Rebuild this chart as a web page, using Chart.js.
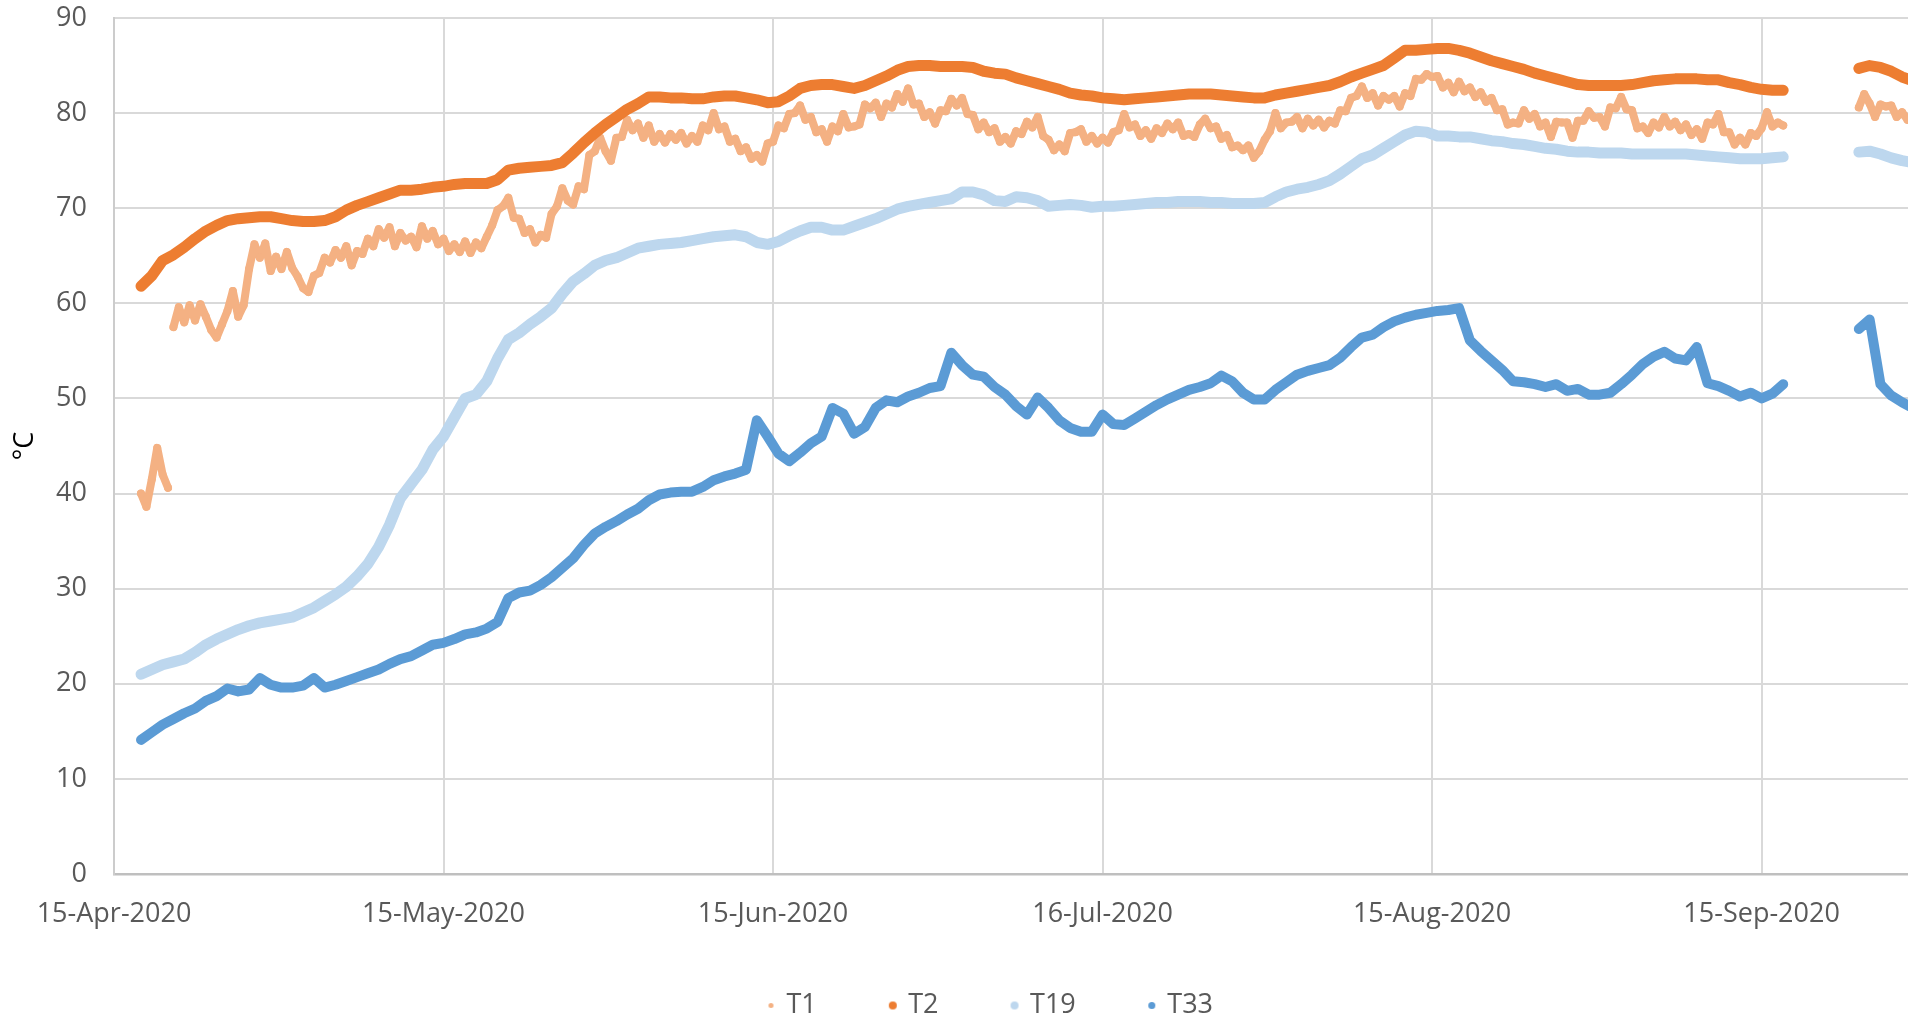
<!DOCTYPE html>
<html>
<head>
<meta charset="utf-8">
<title>T1 T2 T19 T33</title>
<script src="https://cdn.jsdelivr.net/npm/chart.js@4.4.0/dist/chart.umd.min.js"></script>
<style>
    html, body { margin: 0; padding: 0; background: #ffffff; overflow: hidden; }
    #wrap { width: 2002px; height: 1019px; }
</style>
</head>
<body>
<div id="wrap"><canvas id="tempChart"></canvas></div>
<script>
// x values are days after 15-Apr-2020
const tickDays = [0, 30.5, 61, 91.5, 122, 152.5];
const tickLabels = ['15-Apr-2020', '15-May-2020', '15-Jun-2020', '16-Jul-2020', '15-Aug-2020', '15-Sep-2020'];

const seriesNames = ['T1', 'T2', 'T19', 'T33'];
const seriesColors = ['#F4B183', '#ED7D31', '#BDD7EE', '#5B9BD5'];
const firstDay = 2.5;

// T1, one reading every 12 h from day 2.5
const t1 = [
    40.0, 38.6, 41.5, 44.8, 42.0, 40.6, 57.5, 59.6, 58.0, 59.8,
    58.2, 59.9, 58.6, 57.2, 56.4, 57.8, 59.2, 61.3, 58.6, 59.8,
    63.6, 66.2, 64.8, 66.3, 63.4, 64.9, 63.6, 65.4, 63.7, 62.8,
    61.6, 61.2, 62.9, 63.2, 64.8, 64.3, 65.6, 64.8, 66.0, 64.0,
    65.5, 65.2, 66.8, 66.0, 67.8, 66.9, 68.0, 66.0, 67.4, 66.6,
    67.0, 65.9, 68.1, 66.8, 67.6, 66.2, 66.8, 65.5, 66.2, 65.4,
    66.5, 65.3, 66.4, 65.8, 67.0, 68.2, 69.8, 70.2, 71.1, 69.0,
    68.9, 67.4, 67.8, 66.4, 67.2, 66.9, 69.4, 70.2, 72.1, 70.8,
    70.4, 72.3, 72.0, 75.6, 76.0, 77.4, 76.0, 75.0, 77.4, 77.5,
    79.3, 78.2, 78.9, 77.4, 78.7, 77.0, 77.8, 76.9, 77.8, 77.2,
    77.9, 76.8, 77.6, 77.0, 78.7, 78.2, 80.0, 78.3, 78.6, 77.0,
    77.3, 76.0, 76.4, 75.2, 75.6, 74.9, 76.8, 77.0, 78.7, 78.4,
    79.9, 80.0, 80.8, 79.3, 79.6, 78.0, 78.3, 77.0, 78.6, 78.1,
    79.9, 78.5, 78.6, 78.8, 80.9, 80.5, 81.1, 79.6, 81.0, 80.6,
    82.0, 81.2, 82.6, 80.9, 81.0, 79.6, 80.1, 78.9, 80.3, 80.2,
    81.5, 80.8, 81.6, 79.9, 79.8, 78.3, 79.0, 78.0, 78.4, 77.0,
    77.5, 76.8, 78.1, 77.8, 79.1, 78.5, 79.6, 77.6, 77.2, 76.1,
    76.7, 76.0, 77.9, 78.0, 78.3, 77.0, 77.6, 76.8, 77.4, 76.9,
    78.0, 78.2, 79.9, 78.5, 78.8, 77.6, 78.2, 77.3, 78.4, 77.9,
    78.9, 78.3, 79.0, 77.6, 77.8, 77.5, 78.8, 79.4, 78.4, 78.6,
    77.3, 77.7, 76.4, 76.6, 76.1, 76.6, 75.3, 76.0, 77.2, 78.1,
    80.0, 78.4, 79.0, 79.1, 79.6, 78.4, 79.4, 78.7, 79.3, 78.5,
    79.2, 78.9, 80.3, 80.2, 81.6, 81.8, 82.8, 81.6, 82.1, 80.8,
    81.8, 81.4, 81.8, 80.7, 82.1, 81.8, 83.6, 83.5, 84.1, 83.8,
    83.9, 82.7, 83.2, 82.2, 83.3, 82.3, 82.7, 81.7, 82.2, 81.2,
    81.6, 80.3, 80.4, 78.8, 79.0, 78.9, 80.3, 79.4, 79.9, 78.6,
    79.0, 77.5, 79.1, 79.0, 79.0, 77.4, 79.2, 79.2, 80.2, 79.5,
    79.6, 78.6, 80.6, 80.5, 81.7, 80.4, 80.3, 78.4, 78.6, 77.9,
    79.0, 78.5, 79.6, 78.6, 79.1, 78.2, 78.8, 77.7, 78.3, 77.3,
    79.0, 78.8, 79.9, 78.0, 78.0, 76.7, 77.4, 76.7, 77.9, 77.6,
    78.4, 80.1, 78.6, 79.0, 78.7, null, null, null, null, null,
    null, null, null, null, null, null, null, null, 80.6, 82.0,
    81.0, 79.6, 80.9, 80.7, 80.8, 79.6, 80.1, 79.3, 79.8
];

// T2, T19, T33: one reading a day from day 2.5
const t2 = [
    61.8, 62.9, 64.5, 65.1, 65.9, 66.8, 67.6, 68.2, 68.7, 68.9,
    69.0, 69.1, 69.1, 68.9, 68.7, 68.6, 68.6, 68.7, 69.1, 69.8,
    70.3, 70.7, 71.1, 71.5, 71.9, 71.9, 72.0, 72.2, 72.3, 72.5,
    72.6, 72.6, 72.6, 73.0, 74.0, 74.2, 74.3, 74.4, 74.5, 74.8,
    75.8, 76.9, 77.9, 78.8, 79.6, 80.4, 81.0, 81.7, 81.7, 81.6,
    81.6, 81.5, 81.5, 81.7, 81.8, 81.8, 81.6, 81.4, 81.1, 81.2,
    81.8, 82.6, 82.9, 83.0, 83.0, 82.8, 82.6, 82.9, 83.4, 83.9,
    84.5, 84.9, 85.0, 85.0, 84.9, 84.9, 84.9, 84.8, 84.4, 84.2,
    84.1, 83.7, 83.4, 83.1, 82.8, 82.5, 82.1, 81.9, 81.8, 81.6,
    81.5, 81.4, 81.5, 81.6, 81.7, 81.8, 81.9, 82.0, 82.0, 82.0,
    81.9, 81.8, 81.7, 81.6, 81.6, 81.9, 82.1, 82.3, 82.5, 82.7,
    82.9, 83.3, 83.8, 84.2, 84.6, 85.0, 85.8, 86.6, 86.6, 86.7,
    86.8, 86.8, 86.6, 86.3, 85.9, 85.5, 85.2, 84.9, 84.6, 84.2,
    83.9, 83.6, 83.3, 83.0, 82.9, 82.9, 82.9, 82.9, 83.0, 83.2,
    83.4, 83.5, 83.6, 83.6, 83.6, 83.5, 83.5, 83.2, 83.0, 82.7,
    82.5, 82.4, 82.4, null, null, null, null, null, null, 84.7,
    85.0, 84.8, 84.4, 83.8, 83.4
];

const t19 = [
    21.0, 21.5, 22.0, 22.3, 22.6, 23.3, 24.1, 24.7, 25.2, 25.7,
    26.1, 26.4, 26.6, 26.8, 27.0, 27.5, 28.0, 28.7, 29.4, 30.2,
    31.3, 32.6, 34.4, 36.7, 39.5, 41.0, 42.5, 44.6, 46.0, 48.0,
    50.0, 50.4, 51.8, 54.2, 56.2, 56.9, 57.8, 58.6, 59.5, 61.0,
    62.3, 63.1, 64.0, 64.5, 64.8, 65.3, 65.8, 66.0, 66.2, 66.3,
    66.4, 66.6, 66.8, 67.0, 67.1, 67.2, 67.0, 66.4, 66.2, 66.5,
    67.1, 67.6, 68.0, 68.0, 67.7, 67.7, 68.1, 68.5, 68.9, 69.4,
    69.9, 70.2, 70.4, 70.6, 70.8, 71.0, 71.7, 71.7, 71.4, 70.8,
    70.7, 71.2, 71.1, 70.8, 70.2, 70.3, 70.4, 70.3, 70.1, 70.2,
    70.2, 70.3, 70.4, 70.5, 70.6, 70.6, 70.7, 70.7, 70.7, 70.6,
    70.6, 70.5, 70.5, 70.5, 70.6, 71.2, 71.7, 72.0, 72.2, 72.5,
    72.9, 73.6, 74.4, 75.2, 75.6, 76.3, 77.0, 77.7, 78.1, 78.0,
    77.6, 77.6, 77.5, 77.5, 77.3, 77.1, 77.0, 76.8, 76.7, 76.5,
    76.3, 76.2, 76.0, 75.9, 75.9, 75.8, 75.8, 75.8, 75.7, 75.7,
    75.7, 75.7, 75.7, 75.7, 75.6, 75.5, 75.4, 75.3, 75.2, 75.2,
    75.2, 75.3, 75.4, null, null, null, null, null, null, 75.9,
    76.0, 75.7, 75.3, 75.0, 74.8
];

const t33 = [
    14.1, 14.9, 15.7, 16.3, 16.9, 17.4, 18.2, 18.7, 19.5, 19.2,
    19.4, 20.6, 19.9, 19.6, 19.6, 19.8, 20.6, 19.6, 19.9, 20.3,
    20.7, 21.1, 21.5, 22.1, 22.6, 22.9, 23.5, 24.1, 24.3, 24.7,
    25.2, 25.4, 25.8, 26.5, 29.0, 29.6, 29.8, 30.4, 31.2, 32.2,
    33.2, 34.6, 35.8, 36.5, 37.1, 37.8, 38.4, 39.3, 39.9, 40.1,
    40.2, 40.2, 40.7, 41.4, 41.8, 42.1, 42.5, 47.7, 46.0, 44.2,
    43.4, 44.3, 45.3, 46.0, 49.0, 48.4, 46.3, 47.0, 49.0, 49.8,
    49.6, 50.2, 50.6, 51.1, 51.3, 54.8, 53.5, 52.5, 52.3, 51.2,
    50.4, 49.2, 48.3, 50.1, 49.0, 47.7, 46.9, 46.5, 46.5, 48.3,
    47.3, 47.2, 47.9, 48.6, 49.3, 49.9, 50.4, 50.9, 51.2, 51.6,
    52.4, 51.8, 50.6, 49.9, 49.9, 50.9, 51.7, 52.5, 52.9, 53.2,
    53.5, 54.3, 55.4, 56.4, 56.7, 57.5, 58.1, 58.5, 58.8, 59.0,
    59.2, 59.3, 59.5, 56.1, 55.0, 54.0, 53.0, 51.8, 51.7, 51.5,
    51.2, 51.5, 50.8, 51.0, 50.4, 50.4, 50.6, 51.5, 52.5, 53.6,
    54.4, 54.9, 54.2, 54.0, 55.4, 51.6, 51.3, 50.8, 50.2, 50.6,
    50.0, 50.5, 51.5, null, null, null, null, null, null, 57.3,
    58.3, 51.5, 50.3, 49.6, 49.0
];

function toXY(values, step) {
    return values.map((v, i) => ({ x: firstDay + i * step, y: v }));
}

// small round markers for the legend, sized like the plotted dots
function legendDot(color, r) {
    const c = document.createElement('canvas');
    c.width = c.height = Math.ceil(r * 2) + 2;
    const g = c.getContext('2d');
    g.fillStyle = color;
    g.beginPath();
    g.arc(c.width / 2, c.height / 2, r, 0, Math.PI * 2);
    g.fill();
    return c;
}
const legendDots = [
    legendDot(seriesColors[0], 2.5),
    legendDot(seriesColors[1], 4),
    legendDot(seriesColors[2], 4),
    legendDot(seriesColors[3], 3.5)
];

function bandLine(i, values, width) {
    return {
        label: seriesNames[i],
        data: toXY(values, 1),
        showLine: true,
        borderColor: seriesColors[i],
        backgroundColor: seriesColors[i],
        borderWidth: width,
        borderCapStyle: 'round',
        borderJoinStyle: 'round',
        pointRadius: 0,
        order: 4 - i
    };
}

// the x-axis box is kept short so the legend sits low; let the date labels hang below it
const dateLabelRoom = {
    id: 'dateLabelRoom',
    afterLayout(chart) {
        chart.scales.x.bottom = chart.height;
    }
};

Chart.defaults.font.family = "'Open Sans', sans-serif";
Chart.defaults.font.size = 27;
Chart.defaults.color = '#595959';

const gridColor = '#d9d9d9';
const hidden = 'rgba(0,0,0,0)';

new Chart(document.getElementById('tempChart'), {
    type: 'scatter',
    data: {
        datasets: [
            {
                label: seriesNames[0],
                data: toXY(t1, 0.5),
                showLine: true,
                borderColor: seriesColors[0],
                backgroundColor: seriesColors[0],
                borderWidth: 8,
                borderJoinStyle: 'round',
                borderCapStyle: 'round',
                pointRadius: 4,
                pointBorderWidth: 0,
                // no joining stroke across the jumps between sensor readings
                segment: {
                    borderColor: ctx => Math.abs(ctx.p1.parsed.y - ctx.p0.parsed.y) > 8 ? hidden : undefined
                },
                order: 4
            },
            bandLine(1, t2, 11),
            bandLine(2, t19, 11),
            bandLine(3, t33, 10)
        ]
    },
    plugins: [dateLabelRoom],
    options: {
        animation: false,
        responsive: true,
        maintainAspectRatio: false,
        layout: { padding: { top: 18, right: 20, bottom: -10, left: 0 } },
        plugins: {
            tooltip: { enabled: false },
            legend: {
                position: 'bottom',
                labels: {
                    usePointStyle: true,
                    boxWidth: 4,
                    boxHeight: 4,
                    padding: 74,
                    color: '#595959',
                    sort: (a, b) => a.datasetIndex - b.datasetIndex,
                    generateLabels: chart => Chart.defaults.plugins.legend.labels.generateLabels(chart)
                        .map(item => ({ ...item, pointStyle: legendDots[item.datasetIndex] }))
                }
            }
        },
        scales: {
            x: {
                type: 'linear',
                bounds: 'data',
                min: 0,
                max: 172.9,
                afterBuildTicks: axis => { axis.ticks = tickDays.map(v => ({ value: v })); },
                afterFit: axis => { axis.height = 44; },
                ticks: {
                    padding: 24,
                    maxRotation: 0,
                    autoSkip: false,
                    callback: (value, index) => tickLabels[index]
                },
                grid: { color: gridColor, lineWidth: 2, drawTicks: false },
                border: { color: '#bfbfbf', width: 2.5 }
            },
            y: {
                min: 0,
                max: 90,
                afterFit: axis => { axis.width = 114; },
                ticks: { stepSize: 10, padding: 0 },
                grid: { color: gridColor, lineWidth: 2, drawTicks: true, tickLength: 27, tickColor: hidden },
                border: { color: '#cccccc', width: 2 },
                title: {
                    display: true,
                    text: '°C',
                    color: '#000000',
                    padding: { top: 9, bottom: 0 }
                }
            }
        }
    }
});
</script>
</body>
</html>
